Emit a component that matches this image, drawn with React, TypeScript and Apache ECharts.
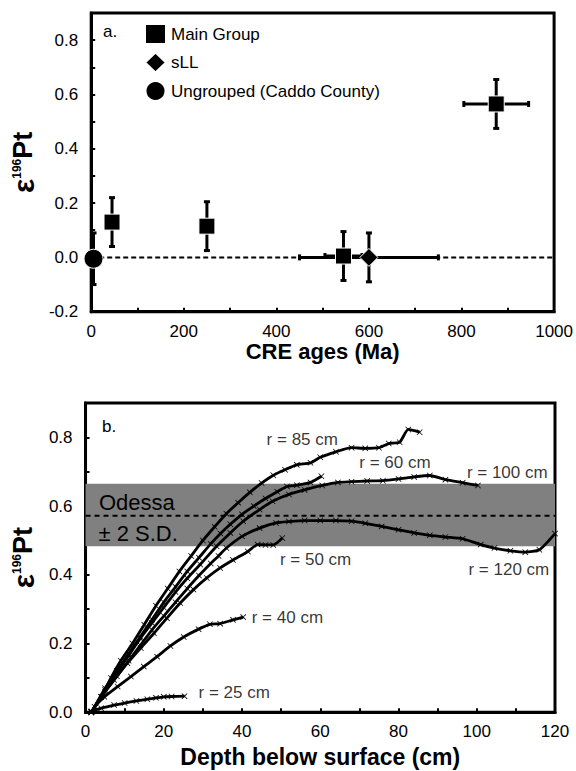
import React, { useEffect, useRef } from "react";
import * as echarts from "echarts";

const FONT = '"Liberation Sans", Arial, Helvetica, sans-serif';

// ---------- Panel a: CRE ages vs epsilon 196Pt ----------
const mainGroupAge = [45, 250, 545, 875];
const mainGroupEps = [0.13, 0.115, 0.005, 0.565];
const mainGroupAgeErr = [0, 0, 40, 70];
const mainGroupEpsErr = [0.09, 0.09, 0.09, 0.09];

const sllAge = [600];
const sllEps = [0.0];
const sllAgeErr = [150];
const sllEpsErr = [0.09];

const ungroupedAge = [5];
const ungroupedEps = [-0.005];
const ungroupedAgeErr = [0];
const ungroupedEpsErr = [0.095];

const zeroLine = [
  [0, 0],
  [1000, 0],
];

// ---------- Panel b: depth profiles ----------
const odessaLow = 0.483;
const odessaMean = 0.572;
const odessaHigh = 0.665;
const odessaLine = [
  [0, odessaMean],
  [120, odessaMean],
];

const r25 = [[1.5, 0.003], [4, 0.012], [7.3, 0.021], [10, 0.027], [13, 0.033], [15.8, 0.038], [18, 0.042], [20, 0.045], [22, 0.046], [25.3, 0.047]];
const r40 = [[1.5, 0], [2.3, 0.016], [4.8, 0.045], [8.2, 0.075], [11.6, 0.104], [14.9, 0.133], [18.3, 0.162], [21.7, 0.193], [25.1, 0.219], [28.9, 0.242], [31.8, 0.256], [34.4, 0.258], [37.7, 0.269], [40.3, 0.277]];
const r50 = [[1.5, 0], [4, 0.045], [7.3, 0.094], [10.7, 0.143], [14.1, 0.187], [17.5, 0.23], [20.8, 0.274], [24.2, 0.318], [27.6, 0.357], [31, 0.391], [34.4, 0.42], [37.7, 0.443], [41.5, 0.468], [44, 0.488], [46, 0.487], [48, 0.487], [50.3, 0.507]];
const r60 = [[1.5, 0], [5, 0.07], [8, 0.12], [11, 0.17], [14, 0.22], [17, 0.27], [20, 0.32], [23, 0.365], [26, 0.41], [29, 0.45], [32, 0.49], [34.5, 0.52], [37, 0.547], [40, 0.576], [43, 0.6], [46, 0.622], [49, 0.642], [51.5, 0.657], [54, 0.661], [57.5, 0.669], [60.3, 0.687]];
const r85 = [[1.5, 0], [4, 0.045], [6.5, 0.1], [9, 0.15], [12, 0.2], [15, 0.255], [18, 0.31], [21, 0.36], [24, 0.41], [27, 0.455], [30, 0.5], [33, 0.54], [36, 0.578], [39, 0.61], [42, 0.64], [45, 0.667], [48, 0.69], [51, 0.706], [54, 0.72], [57.5, 0.726], [60, 0.742], [64, 0.758], [68, 0.77], [71.5, 0.768], [75, 0.77], [77.5, 0.782], [80.3, 0.786], [82.5, 0.823], [85.4, 0.815]];
const r100 = [[1.5, 0], [5, 0.065], [8, 0.115], [11, 0.165], [14, 0.215], [17, 0.26], [20, 0.305], [23, 0.35], [26, 0.39], [29.3, 0.43], [33.5, 0.483], [37, 0.522], [40.3, 0.556], [44.5, 0.59], [47.8, 0.614], [52, 0.634], [56, 0.647], [60.5, 0.66], [64.5, 0.669], [68, 0.671], [72, 0.673], [76, 0.674], [80, 0.679], [84, 0.685], [88, 0.689], [92, 0.677], [96.4, 0.668], [100.3, 0.66]];
const r120 = [[1.5, 0], [5, 0.06], [8, 0.105], [11, 0.15], [14, 0.195], [17, 0.24], [20, 0.28], [23, 0.32], [26, 0.36], [29, 0.398], [32, 0.433], [34, 0.455], [36, 0.478], [40, 0.512], [44.5, 0.536], [48.7, 0.551], [52, 0.555], [56, 0.558], [60, 0.558], [64, 0.558], [68, 0.556], [71.5, 0.55], [75.7, 0.541], [80, 0.531], [84, 0.522], [88, 0.515], [92, 0.51], [96.4, 0.505], [101, 0.488], [104.5, 0.478], [108.6, 0.47], [112.4, 0.466], [116, 0.473], [120, 0.52]];

const curveNames = ["r = 25 cm", "r = 40 cm", "r = 50 cm", "r = 60 cm", "r = 85 cm", "r = 100 cm", "r = 120 cm"];
const curveData = [r25, r40, r50, r60, r85, r100, r120];
const curveLabelDepth = [38.0, 51.6, 58.8, 79.1, 55.4, 107.8, 108.2];
const curveLabelEps = [0.057, 0.277, 0.446, 0.726, 0.794, 0.697, 0.415];

const CROSS = "path://M0,0.9L0.9,0L5,4.1L9.1,0L10,0.9L5.9,5L10,9.1L9.1,10L5,5.9L0.9,10L0,9.1L4.1,5Z";

function errorBars(age: number[], eps: number[], ageErr: number[], epsErr: number[]) {
  return age.map((a, i) => [a, eps[i], ageErr[i], epsErr[i]]);
}

function renderErrorBar(_params: any, api: any) {
  const x = api.value(0);
  const y = api.value(1);
  const xe = api.value(2);
  const ye = api.value(3);
  const cap = 3;
  const st = () => ({ stroke: "#000", lineWidth: 3 });
  const children: any[] = [];
  if (ye > 0) {
    const t = api.coord([x, y + ye]);
    const b = api.coord([x, y - ye]);
    children.push({ type: "line", shape: { x1: t[0], y1: t[1], x2: b[0], y2: b[1] }, style: st() });
    children.push({ type: "line", shape: { x1: t[0] - cap, y1: t[1], x2: t[0] + cap, y2: t[1] }, style: st() });
    children.push({ type: "line", shape: { x1: b[0] - cap, y1: b[1], x2: b[0] + cap, y2: b[1] }, style: st() });
  }
  if (xe > 0) {
    const l = api.coord([x - xe, y]);
    const r = api.coord([x + xe, y]);
    children.push({ type: "line", shape: { x1: l[0], y1: l[1], x2: r[0], y2: r[1] }, style: st() });
    children.push({ type: "line", shape: { x1: l[0], y1: l[1] - cap, x2: l[0], y2: l[1] + cap }, style: st() });
    children.push({ type: "line", shape: { x1: r[0], y1: r[1] - cap, x2: r[0], y2: r[1] + cap }, style: st() });
  }
  return { type: "group", children };
}

const evenTenth = (v: number) => (Math.round(v * 10) % 2 === 0 ? v.toFixed(1) : "");

function baseAxis(extra: any) {
  return {
    type: "value",
    axisLine: { show: true, onZero: false, lineStyle: { color: "#000", width: 3 } },
    axisTick: { show: true, inside: true, length: 4, lineStyle: { color: "#000", width: 2 } },
    splitLine: { show: false },
    axisLabel: { color: "#000", fontSize: 17, fontFamily: FONT },
    nameLocation: "middle",
    ...extra,
  };
}

const yName = "{e|ε}{s|196}{p|Pt}";
const yNameStyle = {
  color: "#000",
  rich: {
    e: { fontSize: 30, fontWeight: "bold", fontFamily: FONT, color: "#000" },
    s: { fontSize: 12, fontWeight: "bold", fontFamily: FONT, color: "#000", verticalAlign: "top", padding: [3, 0, 0, 0] },
    p: { fontSize: 27, fontWeight: "bold", fontFamily: FONT, color: "#000" },
  },
};

export default function App() {
  const ref = useRef<HTMLDivElement>(null);
  useEffect(() => {
    if (!ref.current) return;
    const chart = echarts.init(ref.current, undefined, { renderer: "svg" });
    const symbolStyle = { color: "#000", opacity: 1, borderColor: "#fff", borderWidth: 1 };
    const option: any = {
      animation: false,
      backgroundColor: "#fff",
      textStyle: { fontFamily: FONT },
      grid: [
        { left: 83.5, top: 13, width: 472, height: 298.7, show: true, borderColor: "#000", borderWidth: 3, backgroundColor: "transparent" },
        { left: 81, top: 403, width: 474, height: 309.3, show: true, borderColor: "#000", borderWidth: 3, backgroundColor: "transparent" },
      ],
      xAxis: [
        baseAxis({
          gridIndex: 0, min: 0, max: 1000, interval: 100,
          axisLabel: { color: "#000", fontSize: 17, fontFamily: FONT, margin: 11, formatter: (v: number) => (v % 200 === 0 ? String(v) : "") },
          name: "CRE ages (Ma)", nameGap: 29,
          nameTextStyle: { fontSize: 22, fontWeight: "bold", color: "#000", fontFamily: FONT },
        }),
        baseAxis({
          gridIndex: 1, min: 0, max: 120, interval: 10,
          axisLabel: { color: "#000", fontSize: 17, fontFamily: FONT, margin: 11, formatter: (v: number) => (v % 20 === 0 ? String(v) : "") },
          name: "Depth below surface (cm)", nameGap: 33,
          nameTextStyle: { fontSize: 23, fontWeight: "bold", color: "#000", fontFamily: FONT },
        }),
      ],
      yAxis: [
        baseAxis({
          gridIndex: 0, min: -0.2, max: 0.9, interval: 0.1,
          axisLabel: { color: "#000", fontSize: 17, fontFamily: FONT, margin: 13, formatter: evenTenth },
          name: yName, nameGap: 40, nameTextStyle: yNameStyle,
        }),
        baseAxis({
          gridIndex: 1, min: 0, max: 0.9, interval: 0.1,
          axisLabel: { color: "#000", fontSize: 17, fontFamily: FONT, margin: 13, formatter: evenTenth },
          name: yName, nameGap: 40, nameTextStyle: yNameStyle,
        }),
      ],
      legend: {
        show: true,
        orient: "vertical",
        left: 139,
        top: 18,
        padding: 5,
        itemWidth: 21,
        itemHeight: 20,
        itemGap: 6.5,
        textStyle: { color: "#000", fontSize: 17, fontFamily: FONT, lineHeight: 20 },
        data: ["Main Group", "sLL", "Ungrouped (Caddo County)"],
      },
      graphic: [
        { type: "text", x: 103, y: 31.7, z: 100, style: { text: "a.", fontSize: 17, fontFamily: FONT, fill: "#000", verticalAlign: "middle" } },
        { type: "text", x: 102, y: 426, z: 100, style: { text: "b.", fontSize: 17, fontFamily: FONT, fill: "#000", verticalAlign: "middle" } },
        { type: "text", x: 99, y: 502.7, z: 100, style: { text: "Odessa", fontSize: 22, fontFamily: FONT, fill: "#000", verticalAlign: "middle" } },
        { type: "text", x: 98.5, y: 533.3, z: 100, style: { text: "± 2 S.D.", fontSize: 22, fontFamily: FONT, fill: "#000", verticalAlign: "middle" } },
      ],
      series: [
        // panel a
        {
          type: "line", xAxisIndex: 0, yAxisIndex: 0, data: zeroLine, symbol: "none", silent: true, z: 1,
          lineStyle: { color: "#000", width: 2, type: [5, 3] },
        },
        {
          type: "custom", xAxisIndex: 0, yAxisIndex: 0, z: 2, silent: true,
          renderItem: renderErrorBar,
          encode: { x: 0, y: 1 },
          data: [
            ...errorBars(mainGroupAge, mainGroupEps, mainGroupAgeErr, mainGroupEpsErr),
            ...errorBars(sllAge, sllEps, sllAgeErr, sllEpsErr),
            ...errorBars(ungroupedAge, ungroupedEps, ungroupedAgeErr, ungroupedEpsErr),
          ],
        },
        {
          name: "Main Group", type: "scatter", xAxisIndex: 0, yAxisIndex: 0, z: 3, clip: false,
          symbol: "rect", symbolSize: 16, itemStyle: symbolStyle,
          data: mainGroupAge.map((a, i) => [a, mainGroupEps[i]]),
        },
        {
          name: "sLL", type: "scatter", xAxisIndex: 0, yAxisIndex: 0, z: 3, clip: false,
          symbol: "diamond", symbolSize: 18, itemStyle: symbolStyle,
          data: sllAge.map((a, i) => [a, sllEps[i]]),
        },
        {
          name: "Ungrouped (Caddo County)", type: "scatter", xAxisIndex: 0, yAxisIndex: 0, z: 3, clip: false,
          symbol: "circle", symbolSize: 19, itemStyle: symbolStyle,
          data: ungroupedAge.map((a, i) => [a, ungroupedEps[i]]),
        },
        // panel b
        {
          type: "line", xAxisIndex: 1, yAxisIndex: 1, data: odessaLine, symbol: "none", silent: true, z: 1,
          lineStyle: { color: "#000", width: 2, type: [5, 4] },
          markArea: {
            silent: true,
            itemStyle: { color: "#808080" },
            data: [[{ yAxis: odessaLow }, { yAxis: odessaHigh }]],
          },
        },
        ...curveData.map((d, i) => ({
          name: curveNames[i],
          type: "line", xAxisIndex: 1, yAxisIndex: 1, z: 3, silent: true,
          data: d,
          smooth: 0.2,
          symbol: CROSS, symbolSize: 6, showAllSymbol: true,
          itemStyle: { color: "#000" },
          lineStyle: { color: "#000", width: 2.8 },
        })),
        {
          type: "scatter", xAxisIndex: 1, yAxisIndex: 1, z: 10, silent: true,
          symbolSize: 1, itemStyle: { color: "rgba(0,0,0,0)" },
          label: { show: true, position: "inside", color: "#000", fontSize: 17, fontFamily: FONT },
          data: curveNames.map((t, i) => ({ value: [curveLabelDepth[i], curveLabelEps[i]], label: { formatter: t } })),
        },
      ],
    };
    chart.setOption(option);
    return () => chart.dispose();
  }, []);
  return <div ref={ref} style={{ position: "absolute", left: 0, top: 0, width: 576, height: 771 }} />;
}
